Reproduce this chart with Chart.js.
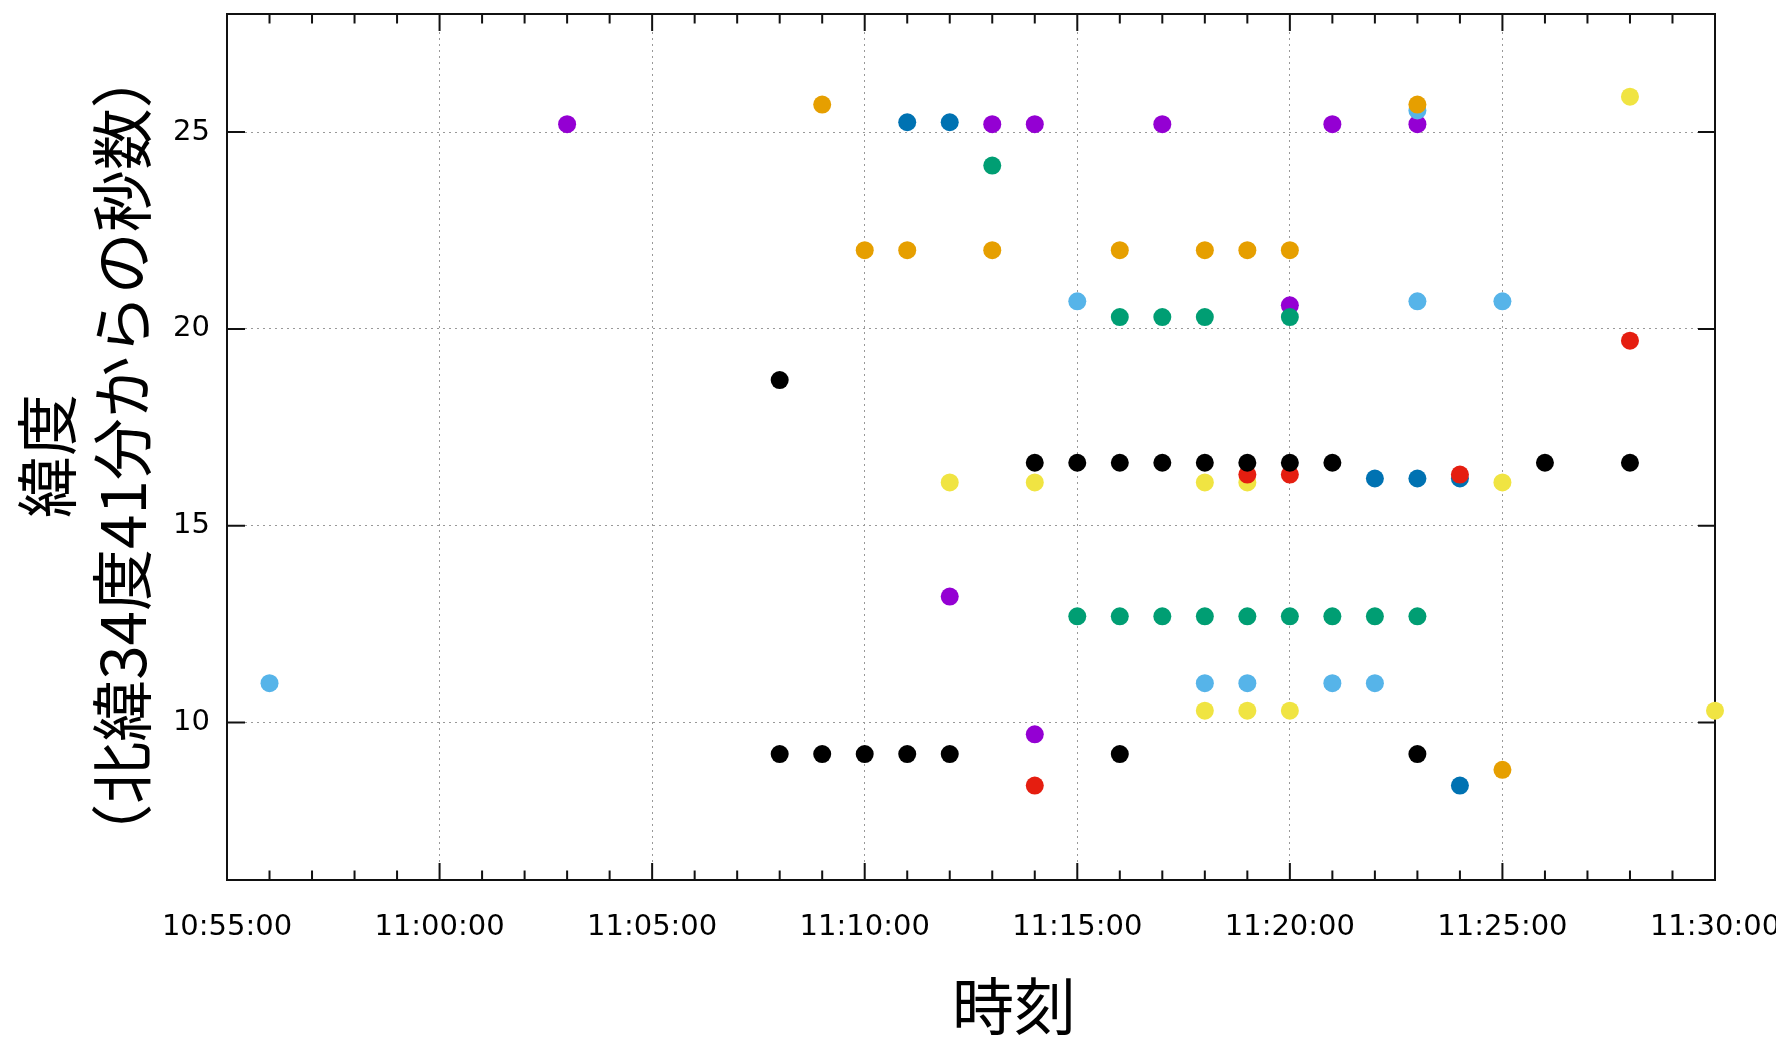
<!DOCTYPE html>
<html lang="ja">
<head>
<meta charset="utf-8">
<title>緯度と時刻</title>
<script src="https://cdn.jsdelivr.net/npm/chart.js@4.4.0/dist/chart.umd.min.js"></script>
<style>
  html, body { margin: 0; padding: 0; background: #fff; }
  canvas { display: block; }
</style>
</head>
<body>
<canvas id="myChart" width="1776" height="1037"></canvas>
<script>
// 観測時刻 (HH:MM) と 北緯34度41分からの秒数
const purpleTimes  = ['11:03','11:13','11:14','11:17','11:21','11:23','11:12','11:14','11:20'];
const purpleValues = [25.2, 25.2, 25.2, 25.2, 25.2, 25.2, 13.2, 9.7, 20.6];

const greenTimes  = ['11:13','11:16','11:17','11:18','11:20','11:15','11:16','11:17','11:18','11:19','11:20','11:21','11:22','11:23'];
const greenValues = [24.15, 20.3, 20.3, 20.3, 20.3, 12.7, 12.7, 12.7, 12.7, 12.7, 12.7, 12.7, 12.7, 12.7];

const skyTimes  = ['10:56','11:18','11:19','11:21','11:22','11:15','11:23','11:25','11:23'];
const skyValues = [11.0, 11.0, 11.0, 11.0, 11.0, 20.7, 20.7, 20.7, 25.55];

const orangeTimes  = ['11:09','11:23','11:10','11:11','11:13','11:16','11:18','11:19','11:20','11:25'];
const orangeValues = [25.7, 25.7, 22.0, 22.0, 22.0, 22.0, 22.0, 22.0, 22.0, 8.8];

const yellowTimes  = ['11:28','11:12','11:14','11:18','11:19','11:25','11:18','11:19','11:20','11:30'];
const yellowValues = [25.9, 16.1, 16.1, 16.1, 16.1, 16.1, 10.3, 10.3, 10.3, 10.3];

const blueTimes  = ['11:11','11:12','11:22','11:23','11:24','11:24'];
const blueValues = [25.25, 25.25, 16.2, 16.2, 16.2, 8.4];

const redTimes  = ['11:19','11:20','11:24','11:28','11:14'];
const redValues = [16.3, 16.3, 16.3, 19.7, 8.4];

const blackTimes  = ['11:14','11:15','11:16','11:17','11:18','11:19','11:20','11:21','11:26','11:28','11:08','11:08','11:09','11:10','11:11','11:12','11:16','11:23'];
const blackValues = [16.6, 16.6, 16.6, 16.6, 16.6, 16.6, 16.6, 16.6, 16.6, 16.6, 18.7, 9.2, 9.2, 9.2, 9.2, 9.2, 9.2, 9.2];

const xTickLabels = ['10:55:00','11:00:00','11:05:00','11:10:00','11:15:00','11:20:00','11:25:00','11:30:00'];
const xTickValues = [0, 5, 10, 15, 20, 25, 30, 35];
const yTickValues = [10, 15, 20, 25];

// minutes since 10:55
function toMinutes(t) {
    const p = t.split(':');
    return (+p[0]) * 60 + (+p[1]) - (10 * 60 + 55);
}

function toPoints(times, values) {
    return times.map((t, i) => ({ x: toMinutes(t), y: values[i] }));
}

const frame = {
    id: 'frame',
    beforeDatasetsDraw(chart) {
        const ctx = chart.ctx, a = chart.chartArea;
        const x = chart.scales.x, y = chart.scales.y;
        ctx.save();
        ctx.strokeStyle = '#111';
        ctx.lineWidth = 2;
        ctx.beginPath();
        for (let m = 1; m < 35; m++) {
            const px = x.getPixelForValue(m);
            const len = m % 5 == 0 ? 17 : 9.5;
            ctx.moveTo(px, a.bottom); ctx.lineTo(px, a.bottom - len);
            ctx.moveTo(px, a.top); ctx.lineTo(px, a.top + len);
        }
        yTickValues.forEach(v => {
            const py = y.getPixelForValue(v);
            ctx.moveTo(a.left, py); ctx.lineTo(a.left + 18, py);
            ctx.moveTo(a.right, py); ctx.lineTo(a.right - 17, py);
        });
        ctx.stroke();
        ctx.strokeRect(a.left, a.top, a.right - a.left, a.bottom - a.top);
        ctx.restore();
    },
    afterDraw(chart) {
        const ctx = chart.ctx;
        ctx.save();
        ctx.fillStyle = '#000';
        ctx.font = '62px "Noto Sans CJK JP"';
        ctx.textAlign = 'center';
        ctx.textBaseline = 'middle';
        ctx.fillText('時刻', 1014, 1006);
        ctx.translate(0, 456);
        ctx.rotate(-Math.PI / 2);
        ctx.fillText('緯度', 0, 47);
        ctx.fillText('（北緯34度41分からの秒数）', 0, 122);
        ctx.restore();
    }
};

function pintar() {
    const ctx = document.getElementById('myChart').getContext('2d');
    const series = [
        ['purple', purpleTimes, purpleValues, '#9400d3'],
        ['green', greenTimes, greenValues, '#009e73'],
        ['sky', skyTimes, skyValues, '#56b4e9'],
        ['orange', orangeTimes, orangeValues, '#e69f00'],
        ['yellow', yellowTimes, yellowValues, '#f0e442'],
        ['blue', blueTimes, blueValues, '#0072b2'],
        ['red', redTimes, redValues, '#e51e10'],
        ['black', blackTimes, blackValues, '#000000']
    ];
    const tickFont = { family: 'DejaVu Sans', size: 29 };

    myChart = new Chart(ctx, {
        type: 'scatter',
        data: {
            datasets: series.map((s, i) => ({
                label: s[0],
                data: toPoints(s[1], s[2]),
                backgroundColor: s[3],
                borderWidth: 0,
                pointRadius: 9,
                pointHoverRadius: 9,
                clip: false,
                order: series.length - i   // later series drawn on top, like gnuplot
            }))
        },
        options: {
            responsive: false,
            animation: false,
            events: [],
            layout: { padding: { top: 14, right: 61, left: 0, bottom: 0 } },
            plugins: {
                legend: { display: false },
                tooltip: { enabled: false }
            },
            scales: {
                x: {
                    type: 'linear',
                    min: 0,
                    max: 35,
                    afterBuildTicks: s => { s.ticks = xTickValues.map(v => ({ value: v })); },
                    afterFit: s => { s.height = 157; s.paddingLeft = 0; s.paddingRight = 0; },
                    grid: {
                        color: c => (c.tick && (c.tick.value == 0 || c.tick.value == 35)) ? 'rgba(0,0,0,0)' : '#999',
                        lineWidth: 1,
                        drawTicks: false
                    },
                    border: { display: false, dash: [2, 4] },
                    ticks: {
                        autoSkip: false,
                        maxRotation: 0,
                        padding: 30,
                        font: tickFont,
                        color: '#000',
                        callback: (v, i) => xTickLabels[i]
                    }
                },
                y: {
                    type: 'linear',
                    min: 6,
                    max: 28,
                    afterBuildTicks: s => { s.ticks = yTickValues.map(v => ({ value: v })); },
                    afterFit: s => { s.width = 227; s.paddingTop = 0; s.paddingBottom = 0; },
                    grid: { color: '#999', lineWidth: 1, drawTicks: false },
                    border: { display: false, dash: [2, 4] },
                    ticks: {
                        padding: 17,
                        font: tickFont,
                        color: '#000'
                    }
                }
            }
        },
        plugins: [frame]
    });
}

pintar();
</script>
</body>
</html>
